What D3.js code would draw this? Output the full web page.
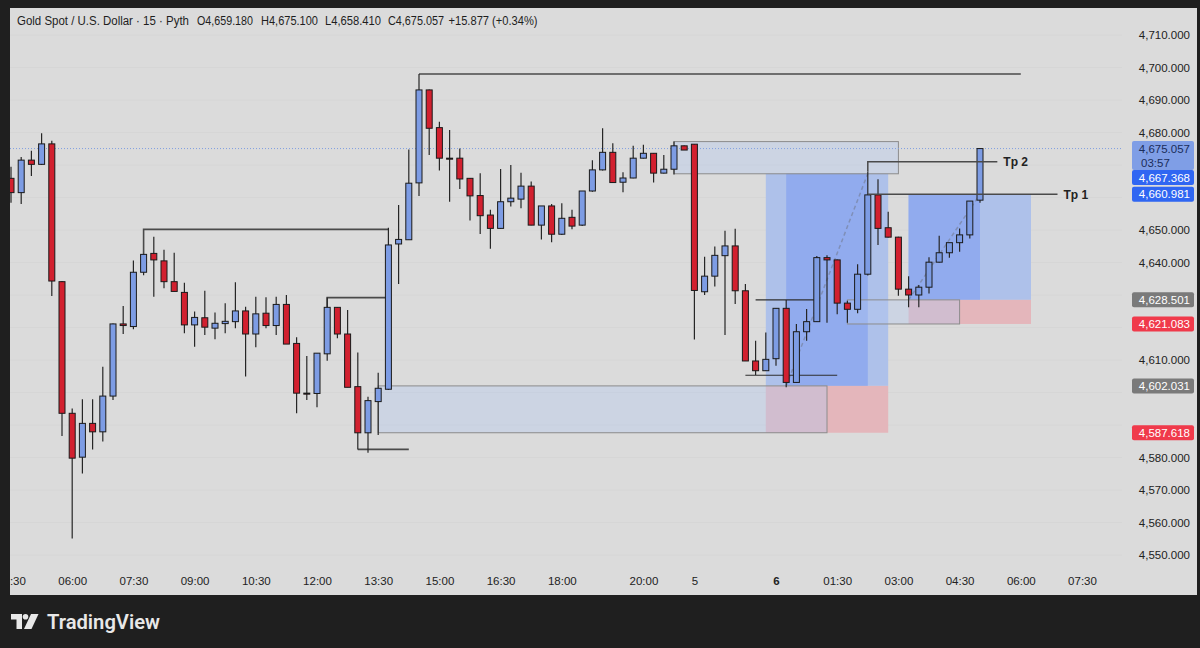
<!DOCTYPE html>
<html><head><meta charset="utf-8">
<script src="https://cdnjs.cloudflare.com/ajax/libs/d3/7.8.5/d3.min.js"></script>
<style>html,body{margin:0;padding:0;background:#1f1f1f;}svg{display:block;}</style>
</head><body>
<svg id="chart" width="1200" height="648"></svg>
<script>
// ---------------- DATA ----------------
const opens  = [4665.9,4661.5,4671.5,4670.2,4676.5,4634.1,4593.6,4580.1,4590.5,4587.9,4598.9,4621.1,4620.3,4637.0,4642.8,4640.5,4634.1,4630.8,4620.8,4623.0,4619.8,4621.2,4621.8,4625.1,4618.0,4624.4,4620.6,4627.1,4615.1,4599.8,4599.7,4611.9,4626.2,4618.0,4601.8,4587.6,4597.2,4601.0,4645.7,4647.0,4664.5,4693.1,4681.5,4672.1,4672.1,4665.9,4660.6,4654.6,4650.5,4658.7,4659.5,4663.5,4651.5,4657.4,4648.7,4653.9,4651.5,4662.0,4668.5,4673.9,4664.7,4666.0,4672.1,4673.6,4667.5,4668.7,4675.9,4676.4,4631.0,4635.8,4642.1,4645.1,4631.3,4609.7,4606.7,4610.4,4625.9,4603.1,4618.7,4621.8,4641.5,4640.8,4627.5,4625.6,4636.4,4660.8,4650.7,4647.8,4631.8,4630.0,4632.4,4640.1,4643.0,4646.1,4648.5,4659.18];
const highs  = [4669.5,4672.5,4674.4,4679.8,4677.5,4634.3,4595.1,4597.9,4597.9,4607.9,4621.2,4626.6,4640.6,4642.6,4647.9,4643.9,4643.0,4633.8,4624.9,4631.3,4624.6,4627.5,4633.9,4626.4,4629.5,4629.3,4629.5,4630.0,4617.0,4611.2,4612.1,4629.2,4626.3,4625.4,4612.3,4598.7,4606.1,4650.7,4657.7,4674.8,4698.0,4693.2,4683.3,4680.8,4675.1,4666.0,4667.5,4656.2,4668.8,4670.0,4667.6,4664.9,4657.4,4658.0,4658.2,4656.2,4662.0,4671.5,4681.3,4676.7,4667.8,4675.9,4676.2,4673.7,4673.1,4677.2,4676.0,4676.5,4641.8,4644.9,4649.8,4650.4,4633.4,4615.9,4618.5,4626.0,4628.5,4621.1,4625.7,4642.0,4642.2,4640.9,4628.2,4639.5,4668.0,4665.6,4655.6,4647.9,4635.8,4633.1,4641.6,4648.2,4646.1,4650.5,4658.9,4675.1];
const lows   = [4658.4,4658.0,4666.6,4670.0,4629.7,4586.6,4555.1,4575.1,4582.5,4584.9,4597.7,4618.0,4619.5,4636.1,4629.5,4632.1,4631.1,4618.2,4614.1,4617.7,4616.4,4618.2,4619.8,4604.9,4613.9,4619.8,4617.7,4614.9,4593.6,4597.7,4595.5,4609.8,4616.7,4601.6,4582.5,4581.5,4586.9,4600.8,4633.4,4646.9,4660.5,4673.1,4668.3,4658.7,4662.6,4652.9,4648.8,4644.2,4650.4,4657.2,4656.7,4651.5,4647.1,4646.2,4648.5,4650.2,4651.2,4661.8,4668.3,4664.5,4661.6,4665.9,4672.0,4664.6,4667.4,4667.1,4674.6,4616.3,4630.0,4632.6,4617.7,4627.2,4609.7,4605.4,4606.6,4608.2,4601.6,4603.0,4615.9,4621.7,4621.5,4624.1,4621.5,4624.4,4636.0,4645.4,4647.7,4629.8,4626.2,4626.2,4630.5,4640.0,4641.5,4643.3,4647.4,4658.41];
const closes = [4661.5,4671.5,4670.2,4676.5,4634.3,4593.6,4579.8,4590.5,4587.9,4598.9,4621.1,4620.6,4637.0,4642.5,4640.8,4634.1,4631.1,4620.8,4623.1,4620.1,4621.3,4621.9,4625.1,4618.0,4624.2,4620.6,4627.1,4614.9,4599.8,4599.7,4612.1,4626.2,4618.0,4601.6,4587.6,4597.5,4601.3,4645.4,4647.1,4664.4,4693.1,4681.3,4672.1,4672.0,4665.7,4660.5,4654.4,4650.5,4658.7,4659.8,4663.5,4651.5,4657.4,4648.7,4653.6,4651.2,4662.0,4668.5,4673.9,4664.6,4666.0,4672.1,4673.6,4667.5,4668.7,4675.9,4674.6,4631.4,4635.8,4642.2,4645.1,4631.3,4609.7,4606.7,4610.2,4625.9,4603.1,4618.7,4621.8,4641.5,4640.8,4627.5,4625.6,4636.4,4660.8,4650.5,4647.8,4631.8,4630.0,4632.4,4640.1,4643.0,4646.1,4648.5,4658.9,4675.057];

const timeTickIndex  = [0,6,12,18,24,30,36,42,48,54,62,67,75,81,87,93,99,105];
const timeTickLabels = ["04:30","06:00","07:30","09:00","10:30","12:00","13:30","15:00","16:30","18:00","20:00","5","6","01:30","03:00","04:30","06:00","07:30"];
const priceTicks = [4550,4560,4570,4580,4590,4600,4610,4620,4630,4640,4650,4660,4670,4680,4690,4700,4710];

const headerTitle = "Gold Spot / U.S. Dollar · 15 · Pyth";
const headerValues = ["O4,659.180","H4,675.100","L4,658.410","C4,675.057","+15.877 (+0.34%)"];
const countdown = "03:57";

// drawings (bar index / price anchors)
const zoneRects = [ // [i0, i1, priceTop, priceBottom]
  [65, 87, 4677.2, 4667.3],
  [36, 80, 4602.031, 4587.618],
  [82, 93, 4628.501, 4621.083]
];
const positions = [ // [i0, i1, entry, target, stop, activeFrom, activeTo]
  [74, 86, 4602.031, 4667.368, 4587.618, 76, 84],
  [88, 100, 4628.501, 4660.981, 4621.083, 88, 95]
];
const levelLines = [ // [iFrom, iTo, price, startPrice]
  [13, 37, 4650.2, 4642.5],
  [31, 37, 4629.2, 4626.2],
  [34, 39, 4582.5, 4582.5],
  [40, 99, 4698.0, 4698.0]
];
const thinLines = [ // [iFrom, iTo, price]
  [72, 81, 4605.3],
  [73, 79, 4628.5]
];
const targetLines = [ // [iFrom, iTo, price, startPrice, label]
  [84, 96.7, 4671.0, 4668.0, "Tp 2"],
  [84, 102.6, 4660.981, 4660.981, "Tp 1"]
];
const scaleLabels = [4675.057, 4667.368, 4660.981, 4628.501, 4621.083, 4602.031, 4587.618];
const scaleKinds  = ["last","target","target","entry","stop","entry","stop"];

// ---------------- DRAW ----------------
const W = 1200, H = 648;
const svg = d3.select("#chart");
const x = d3.scaleLinear().domain([0, 95]).range([11, 980]);
const y = d3.scaleLinear().domain([4550, 4710]).range([555, 35]);
const font = "'Liberation Sans', Arial, sans-serif";
const fmt = d3.format(",.3f");

svg.append("rect").attr("width", W).attr("height", H).attr("fill", "#1f1f1f");
svg.append("rect").attr("x", 10).attr("y", 8).attr("width", 1187).attr("height", 587).attr("fill", "#dbdbdb");

const defs = svg.append("defs");
defs.append("clipPath").attr("id", "plotClip").append("rect").attr("x", 10).attr("y", 8).attr("width", 1112).attr("height", 552);
defs.append("clipPath").attr("id", "timeClip").append("rect").attr("x", 10).attr("y", 560).attr("width", 1112).attr("height", 35);

const g = svg.append("g").attr("clip-path", "url(#plotClip)");

// faint grid
g.selectAll("line.hg").data(priceTicks).join("line").attr("class", "hg")
  .attr("x1", 10).attr("x2", 1122).attr("y1", d => y(d)).attr("y2", d => y(d))
  .attr("stroke", "#d6d6d6").attr("stroke-width", 1);

// positions
const pos = g.append("g");
positions.forEach(p => {
  const [i0, i1, entry, target, stop, a0, a1] = p;
  pos.append("rect").attr("x", x(i0)).attr("width", x(i1) - x(i0))
    .attr("y", y(target)).attr("height", y(entry) - y(target)).attr("fill", "#aec1ea");
  pos.append("rect").attr("x", x(a0)).attr("width", x(a1) - x(a0))
    .attr("y", y(target)).attr("height", y(entry) - y(target)).attr("fill", "#91abee");
  pos.append("rect").attr("x", x(i0)).attr("width", x(i1) - x(i0))
    .attr("y", y(entry)).attr("height", y(stop) - y(entry)).attr("fill", "#e4b6bb");
});

// zone rectangles
g.selectAll("rect.zone").data(zoneRects).join("rect").attr("class", "zone")
  .attr("x", d => x(d[0])).attr("width", d => x(d[1]) - x(d[0]))
  .attr("y", d => y(d[2])).attr("height", d => y(d[3]) - y(d[2]))
  .attr("fill", "rgba(180,200,240,0.38)").attr("stroke", "#8c8c8c").attr("stroke-width", 1);

// dashed trade paths
g.selectAll("line.path").data(positions).join("line").attr("class", "path")
  .attr("x1", d => x(d[5])).attr("y1", d => y(d[2]))
  .attr("x2", d => x(d[6])).attr("y2", d => y(d[3]))
  .attr("stroke", "#7f8fb8").attr("stroke-width", 1.5).attr("stroke-dasharray", "4,3");

// last price dotted line
g.append("line").attr("x1", 10).attr("x2", 1122)
  .attr("y1", y(closes[closes.length - 1])).attr("y2", y(closes[closes.length - 1]))
  .attr("stroke", "#7f9ee0").attr("stroke-width", 1).attr("stroke-dasharray", "1,2");

// level lines
levelLines.forEach(l => {
  const [i0, i1, p, p0] = l;
  g.append("path")
    .attr("d", `M${x(i0)},${y(p0)}V${y(p)}H${x(i1)}`)
    .attr("fill", "none").attr("stroke", "#4a4a4a").attr("stroke-width", 1.6);
});
thinLines.forEach(l => {
  g.append("line").attr("x1", x(l[0])).attr("x2", x(l[1])).attr("y1", y(l[2])).attr("y2", y(l[2]))
    .attr("stroke", "#2e2e2e").attr("stroke-width", 1.1);
});

// candles
const idx = d3.range(opens.length);
const cg = g.append("g");
cg.selectAll("line.wick").data(idx).join("line").attr("class", "wick")
  .attr("x1", i => x(i)).attr("x2", i => x(i))
  .attr("y1", i => y(highs[i])).attr("y2", i => y(lows[i]))
  .attr("stroke", "#262626").attr("stroke-width", 1.2);
cg.selectAll("rect.body").data(idx).join("rect").attr("class", "body")
  .attr("x", i => x(i) - 3).attr("width", 6)
  .attr("y", i => y(Math.max(opens[i], closes[i])))
  .attr("height", i => Math.max(1, Math.abs(y(opens[i]) - y(closes[i]))))
  .attr("fill", i => closes[i] >= opens[i] ? "#7d9ce4" : "#d2202f")
  .attr("stroke", "#1a1a1a").attr("stroke-width", 1);

// target lines + labels
targetLines.forEach(t => {
  const [i0, i1, p, p0, label] = t;
  g.append("path").attr("d", `M${x(i0)},${y(p0)}V${y(p)}H${x(i1)}`)
    .attr("fill", "none").attr("stroke", "#4a4a4a").attr("stroke-width", 1.5);
  g.append("text").attr("x", x(i1) + 6).attr("y", y(p)).attr("dy", "0.35em")
    .attr("font-family", font).attr("font-size", 12).attr("font-weight", 700)
    .attr("fill", "#222").text(label);
});

// header
const hdr = svg.append("g").attr("font-family", font).attr("font-size", 12).attr("fill", "#1e1e1e");
hdr.append("text").attr("x", 17).attr("y", 25).attr("textLength", 172).attr("lengthAdjust", "spacingAndGlyphs").text(headerTitle);
const hx = [197, 261, 325, 388, 448.5];
const hw = [56, 57, 56, 56, 89];
headerValues.forEach((v, i) => hdr.append("text").attr("x", hx[i]).attr("y", 25)
  .attr("textLength", hw[i]).attr("lengthAdjust", "spacingAndGlyphs").text(v));

// price scale labels with collision avoidance
const colors = {last: ["#7f9ee6", "#1b2d5a"], target: ["#2f66f2", "#ffffff"], entry: ["#7a7a7a", "#ffffff"], stop: ["#f03a4b", "#ffffff"]};
let prevBottom = -Infinity;
const boxes = [];
scaleLabels.forEach((p, i) => {
  const kind = scaleKinds[i];
  const h = kind === "last" ? 29 : 15;
  let top = y(p) - 7.5;
  if (top < prevBottom) top = prevBottom;
  prevBottom = top + h;
  boxes.push({p, kind, top, h});
});

// price axis (ticks hidden where a price label covers them)
const visibleTicks = priceTicks.filter(t => !boxes.some(b => y(t) > b.top - 6 && y(t) < b.top + b.h + 6));
const yAxis = svg.append("g").attr("transform", "translate(1190,0)")
  .call(d3.axisRight(y).tickValues(visibleTicks).tickFormat(fmt).tickSize(0));
yAxis.select(".domain").remove();
yAxis.selectAll("text").attr("x", 0).attr("text-anchor", "end")
  .attr("font-family", font).attr("font-size", 11.5).attr("fill", "#222");

const lab = svg.append("g").attr("font-family", font).attr("font-size", 11.5);
boxes.forEach(b => {
  const c = colors[b.kind];
  lab.append("rect").attr("x", 1132).attr("y", b.top).attr("width", 62).attr("height", b.h)
    .attr("rx", 2).attr("fill", c[0]);
  lab.append("text").attr("x", 1190).attr("y", b.top + 7.5).attr("dy", "0.35em")
    .attr("text-anchor", "end").attr("fill", c[1]).text(fmt(b.p));
  if (b.kind === "last") {
    lab.append("text").attr("x", 1141).attr("y", b.top + 21.5).attr("dy", "0.35em")
      .attr("fill", c[1]).text(countdown);
  }
});

// time axis
const xAxis = svg.append("g").attr("clip-path", "url(#timeClip)").append("g")
  .attr("transform", "translate(0,574)")
  .call(d3.axisBottom(x).tickValues(timeTickIndex).tickFormat((d, i) => timeTickLabels[i]).tickSize(0));
xAxis.select(".domain").remove();
xAxis.selectAll("text").attr("font-family", font).attr("font-size", 11.5).attr("fill", "#222")
  .attr("font-weight", (d, i) => timeTickLabels[i] === "6" ? 700 : 400);

// TradingView logo
const logo = svg.append("g").attr("fill", "#e8e8e8");
logo.append("path").attr("d", "M11,614 h11 v15 h-5.5 v-9.5 h-5.5 z");
logo.append("circle").attr("cx", 25.5).attr("cy", 616.8).attr("r", 2.8);
logo.append("path").attr("d", "M31,614 h7.5 l-7,15 h-7.5 z");
logo.append("text").attr("x", 47).attr("y", 628.5).attr("font-family", "Roboto, 'Liberation Sans', sans-serif")
  .attr("font-size", 20).attr("font-weight", 600).attr("textLength", 113).attr("lengthAdjust", "spacingAndGlyphs").text("TradingView");
</script>
</body></html>
